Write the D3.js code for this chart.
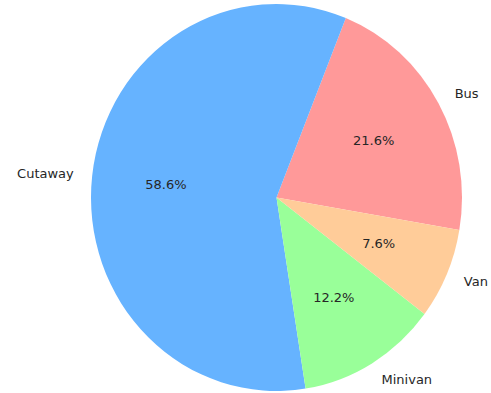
<!DOCTYPE html>
<html>
<head>
<meta charset="utf-8">
<script src="https://cdn.jsdelivr.net/npm/d3@7"></script>
<style>
html,body{margin:0;padding:0;background:#fff;}
svg{display:block;}
</style>
</head>
<body>
<svg id="chart" width="491" height="393"></svg>
<script>
const categories = ["Bus", "Cutaway", "Minivan", "Van"];
const values = [21.6, 58.6, 12.2, 7.6];
const colors = ["#ff9999", "#66b3ff", "#99ff99", "#ffcc99"];
const pctLabels = ["21.6%", "58.6%", "12.2%", "7.6%"];

const W = 491, H = 393;
const cx = 276.5, cy = 197.5, rx = 185.5, ry = 193.5;
const startDeg = -9.7; // math angle where first slice starts, counterclockwise

const svg = d3.select("#chart");
const a0 = (90 - startDeg) * Math.PI / 180;
const pie = d3.pie().sort(null).value(d => d).startAngle(a0).endAngle(a0 - 2 * Math.PI);
const arcs = pie(values);
const arc = d3.arc().innerRadius(0).outerRadius(ry);

const g = svg.append("g").attr("transform", `translate(${cx},${cy}) scale(${rx / ry},1)`);
g.selectAll("path").data(arcs).join("path")
  .attr("d", arc)
  .attr("fill", (d, i) => colors[i]);

function pos(d, f) {
  const m = (d.startAngle + d.endAngle) / 2;
  return [cx + Math.sin(m) * f * rx, cy - Math.cos(m) * f * ry];
}

const font = "DejaVu Sans, sans-serif";
svg.append("g").selectAll("text").data(arcs).join("text")
  .attr("x", d => pos(d, 1.1)[0])
  .attr("y", d => pos(d, 1.1)[1])
  .attr("text-anchor", d => pos(d, 1.1)[0] >= cx ? "start" : "end")
  .attr("dominant-baseline", "central")
  .attr("font-family", font).attr("font-size", 13).attr("fill", "#262626")
  .text((d, i) => categories[i]);

svg.append("g").selectAll("text").data(arcs).join("text")
  .attr("x", d => pos(d, 0.6)[0])
  .attr("y", d => pos(d, 0.6)[1])
  .attr("text-anchor", "middle")
  .attr("dominant-baseline", "central")
  .attr("font-family", font).attr("font-size", 13).attr("fill", "#262626")
  .text((d, i) => pctLabels[i]);
</script>
</body>
</html>
